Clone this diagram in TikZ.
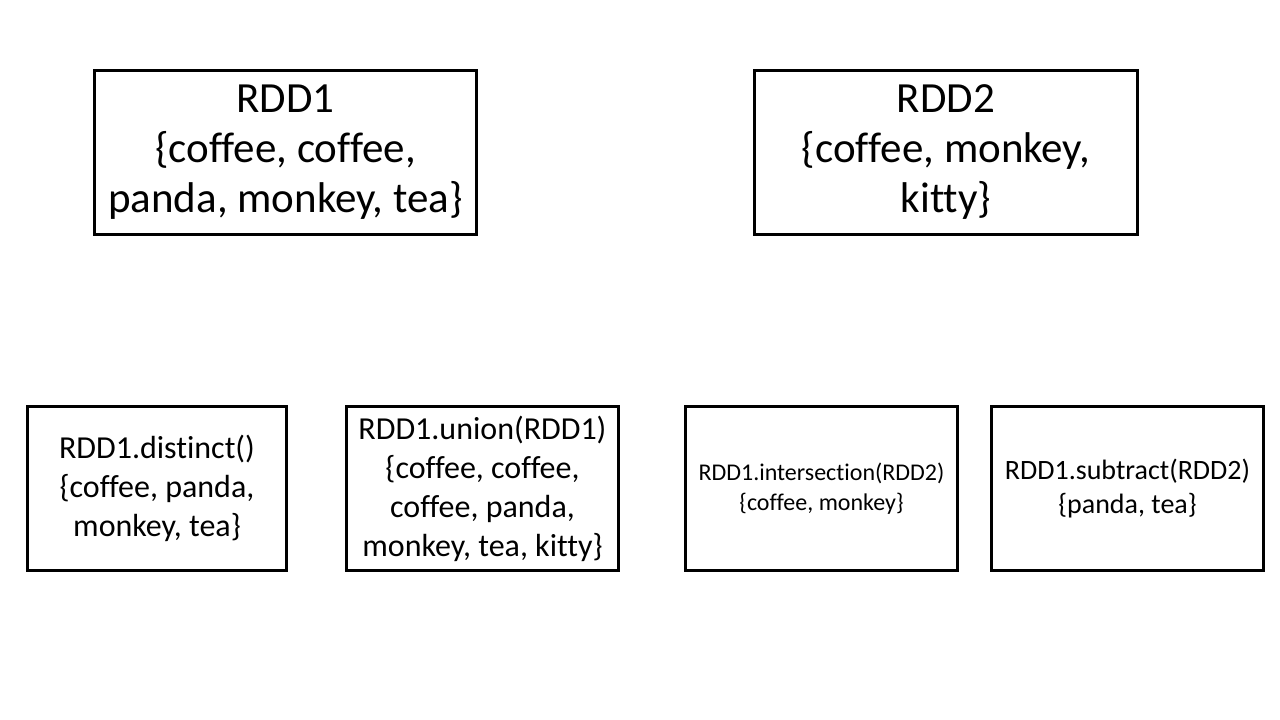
\documentclass[tikz,border=0pt]{standalone}
\usepackage{fontspec}
\setmainfont[Ligatures={NoCommon}]{Carlito}
\begin{document}
\begin{tikzpicture}[x=1pt,y=-1pt,
  box/.style={draw=black,line width=3pt,align=center,inner sep=0pt,anchor=north west},
  big/.style={font=\fontsize{43}{50}\selectfont},
  mid/.style={font=\fontsize{32}{39}\selectfont},
  small/.style={font=\fontsize{24}{30}\selectfont},
  med/.style={font=\fontsize{28}{34}\selectfont}]
\useasboundingbox (0,0) rectangle (1280,720);
\node[box,big,minimum width=382pt,minimum height=164pt] (rdd1) at (93,69)
  {RDD1\\\{coffee, coffee,\\panda, monkey, tea\}};
\node[box,big,minimum width=383pt,minimum height=164pt] (rdd2) at (753,69)
  {RDD2\\\{coffee, monkey,\\kitty\}};
\node[box,mid,minimum width=259pt,minimum height=164pt] (distinct) at (26,405)
  {RDD1.distinct()\\\{coffee, panda,\\monkey, tea\}};
\node[box,mid,minimum width=272pt,minimum height=164pt] (union) at (345,405)
  {RDD1.union(RDD1)\\\{coffee, coffee,\\coffee, panda,\\monkey, tea, kitty\}};
\node[box,small,minimum width=272pt,minimum height=164pt] (inter) at (684,405)
  {RDD1.intersection(RDD2)\\\{coffee, monkey\}};
\node[box,med,minimum width=272pt,minimum height=164pt] (sub) at (990,405)
  {RDD1.subtract(RDD2)\\\{panda, tea\}};
\end{tikzpicture}
\end{document}
